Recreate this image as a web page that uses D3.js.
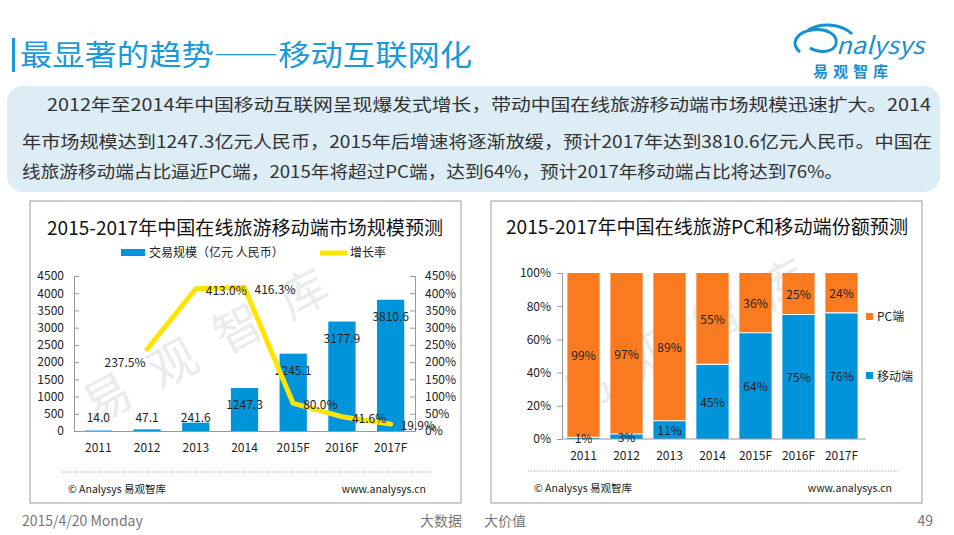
<!DOCTYPE html>
<html lang="zh">
<head>
<meta charset="utf-8">
<title>最显著的趋势——移动互联网化</title>
<script src="https://cdn.jsdelivr.net/npm/d3@7"></script>
<style>
  body { margin: 0; background: #fff; }
  svg text { font-family: "Noto Sans CJK SC", "Noto Sans", sans-serif; }
</style>
</head>
<body>
<div id="page"></div>
<script>
// ---- data ----
var years = ["2011", "2012", "2013", "2014", "2015F", "2016F", "2017F"];
var marketSize = [14.0, 47.1, 241.6, 1247.3, 2245.1, 3177.9, 3810.6];
var growthYears = ["2012", "2013", "2014", "2015F", "2016F", "2017F"];
var growthRate = [237.5, 413.0, 416.3, 80.0, 41.6, 19.9];
var mobileShare = [1, 3, 11, 45, 64, 75, 76];
var pcShare = [99, 97, 89, 55, 36, 25, 24];
var sizeTicks = [0, 500, 1000, 1500, 2000, 2500, 3000, 3500, 4000, 4500];
var rateTicks = [0, 50, 100, 150, 200, 250, 300, 350, 400, 450];
var shareTicks = [0, 20, 40, 60, 80, 100];
var introLines = [
  "2012年至2014年中国移动互联网呈现爆发式增长，带动中国在线旅游移动端市场规模迅速扩大。2014",
  "年市场规模达到1247.3亿元人民币，2015年后增速将逐渐放缓，预计2017年达到3810.6亿元人民币。中国在",
  "线旅游移动端占比逼近PC端，2015年将超过PC端，达到64%，预计2017年移动端占比将达到76%。"
];

var W = 954, H = 535;
var blue = "#0095da", orange = "#f97a1f", yellow = "#ffe400";

var svg = d3.select("#page").append("svg")
  .attr("width", W).attr("height", H);

// ---- page header ----
svg.append("rect").attr("x", 12).attr("y", 38).attr("width", 3).attr("height", 34).attr("fill", "#1a9ad8");
svg.append("text").attr("x", 20).attr("y", 66)
  .attr("font-size", 29).attr("fill", "#1a9ad8")
  .attr("textLength", 452).attr("lengthAdjust", "spacingAndGlyphs")
  .text("最显著的趋势——移动互联网化");

// logo
var logo = svg.append("g").attr("fill", "#1a8fd2");
logo.append("path")
  .attr("d", "M800,52 C790,44 796,32 812,30 C826,28 838,34 836,44 C834,52 820,54 810,48 M808,30 C822,22 842,24 852,34")
  .attr("fill", "none").attr("stroke", "#1a8fd2").attr("stroke-width", 3);
logo.append("text").attr("x", 836).attr("y", 54)
  .attr("font-size", 24).attr("font-style", "italic").attr("font-family", "DejaVu Sans")
  .attr("textLength", 88).attr("lengthAdjust", "spacingAndGlyphs").text("nalysys");
logo.append("text").attr("x", 813).attr("y", 77)
  .attr("font-size", 15).attr("font-weight", "bold").attr("letter-spacing", 5)
  .text("易观智库");

// intro box
svg.append("rect").attr("x", 7).attr("y", 86).attr("width", 933).attr("height", 106)
  .attr("rx", 16).attr("fill", "#ddedf6");
var introX = [47, 22, 22], introY = [111, 148, 178], introW = [884, 910, 821];
svg.selectAll("text.intro").data(introLines).join("text")
  .attr("class", "intro")
  .attr("x", (d, i) => introX[i]).attr("y", (d, i) => introY[i])
  .attr("font-size", 17).attr("fill", "#333")
  .attr("textLength", (d, i) => introW[i]).attr("lengthAdjust", "spacingAndGlyphs")
  .text(d => d);

// ---- helpers ----
function panel(x, y, w, h) {
  svg.append("rect").attr("x", x).attr("y", y).attr("width", w).attr("height", h)
    .attr("fill", "#fff").attr("stroke", "#bdbdbd").attr("stroke-width", 1.5);
}
function watermark(cx, cy) {
  svg.append("text")
    .attr("transform", "translate(" + cx + "," + cy + ") rotate(-28)")
    .attr("text-anchor", "middle").attr("font-size", 48).attr("fill", "#ebebeb")
    .attr("letter-spacing", 26).text("易观智库");
}
function footer(x1, x2, y) {
  svg.append("line").attr("x1", x1).attr("x2", x2).attr("y1", y).attr("y2", y)
    .attr("stroke", "#aaa").attr("stroke-dasharray", "1.5,1.5");
  svg.append("text").attr("x", x1 + 6).attr("y", y + 21).attr("font-size", 10.5).attr("fill", "#222")
    .text("© Analysys 易观智库");
  svg.append("text").attr("x", x2 - 6).attr("y", y + 21).attr("font-size", 10.5).attr("fill", "#222")
    .attr("text-anchor", "end").text("www.analysys.cn");
}
function styleAxis(g) {
  g.select(".domain").attr("stroke", "#999");
  g.selectAll(".tick line").attr("stroke", "#999");
  g.selectAll(".tick text").attr("font-size", 12).attr("fill", "#222")
    .style("font-family", "'Noto Sans CJK SC', sans-serif");
}

// ---- left chart: market size + growth ----
panel(30, 201, 431, 302);
watermark(225, 355);
svg.append("text").attr("x", 245).attr("y", 235).attr("text-anchor", "middle")
  .attr("font-size", 19).attr("fill", "#111")
  .attr("textLength", 396).attr("lengthAdjust", "spacingAndGlyphs")
  .text("2015-2017年中国在线旅游移动端市场规模预测");

// legend
svg.append("rect").attr("x", 121).attr("y", 249).attr("width", 24).attr("height", 7).attr("fill", blue);
svg.append("text").attr("x", 149).attr("y", 257).attr("font-size", 12).attr("fill", "#222")
  .text("交易规模（亿元 人民币）");
svg.append("line").attr("x1", 320).attr("x2", 347).attr("y1", 253).attr("y2", 253)
  .attr("stroke", yellow).attr("stroke-width", 5);
svg.append("text").attr("x", 350).attr("y", 257).attr("font-size", 12).attr("fill", "#222").text("增长率");

var xL = d3.scaleBand().domain(years).range([74, 415]).paddingInner(0.44).paddingOuter(0.22);
var yL = d3.scaleLinear().domain([0, 4500]).range([431, 276]);
var yR = d3.scaleLinear().domain([0, 450]).range([431, 276]);

svg.selectAll("rect.size").data(years).join("rect")
  .attr("class", "size")
  .attr("x", d => xL(d)).attr("width", xL.bandwidth())
  .attr("y", (d, i) => yL(marketSize[i]))
  .attr("height", (d, i) => yL(0) - yL(marketSize[i]))
  .attr("fill", blue);

var gL = svg.append("g").attr("transform", "translate(74,0)")
  .call(d3.axisLeft(yL).tickValues(sizeTicks).tickSize(-5).tickPadding(10).tickFormat(d3.format("d")));
styleAxis(gL);
var gR = svg.append("g").attr("transform", "translate(415,0)")
  .call(d3.axisRight(yR).tickValues(rateTicks).tickSize(-5).tickPadding(10).tickFormat(d => d + "%"));
styleAxis(gR);
var gX = svg.append("g").attr("transform", "translate(0,431)")
  .call(d3.axisBottom(xL).tickSize(0).tickPadding(12));
styleAxis(gX);

svg.selectAll("text.sizeLabel").data(years).join("text")
  .attr("class", "sizeLabel")
  .attr("x", d => xL(d) + xL.bandwidth() / 2)
  .attr("y", (d, i) => Math.min(yL(marketSize[i]) + 16, 417) + 5)
  .attr("text-anchor", "middle").attr("font-size", 12).attr("fill", "#222")
  .text((d, i) => marketSize[i].toFixed(1));

var cx = d => xL(d) + xL.bandwidth() / 2;
var line = d3.line().x((d, i) => cx(growthYears[i])).y(d => yR(d));
svg.append("path").datum(growthRate).attr("d", line)
  .attr("fill", "none").attr("stroke", yellow).attr("stroke-width", 5)
  .attr("stroke-linejoin", "round").attr("stroke-linecap", "round");

svg.selectAll("text.rateLabel").data(growthRate).join("text")
  .attr("class", "rateLabel")
  .attr("x", (d, i) => i === 0 ? cx(growthYears[i]) - 22 : cx(growthYears[i]) + 10)
  .attr("y", (d, i) => i === 0 ? yR(d) + 18 : yR(d) + 6)
  .attr("text-anchor", "start")
  .attr("text-anchor", (d, i) => i === 0 ? "middle" : "start")
  .attr("font-size", 12).attr("fill", "#222")
  .text(d => d.toFixed(1) + "%");

footer(62, 432, 472);

// ---- right chart: PC vs mobile share ----
panel(491, 201, 431, 302);
watermark(705, 345);
svg.append("text").attr("x", 707).attr("y", 234).attr("text-anchor", "middle")
  .attr("font-size", 19).attr("fill", "#111")
  .attr("textLength", 402).attr("lengthAdjust", "spacingAndGlyphs")
  .text("2015-2017年中国在线旅游PC和移动端份额预测");

var xS = d3.scaleBand().domain(years).range([562, 863]).paddingInner(0.25).paddingOuter(0.125);
var yS = d3.scaleLinear().domain([0, 100]).range([439, 273]);

svg.selectAll("rect.mobile").data(years).join("rect")
  .attr("class", "mobile")
  .attr("x", d => xS(d)).attr("width", xS.bandwidth())
  .attr("y", (d, i) => yS(mobileShare[i]))
  .attr("height", (d, i) => yS(0) - yS(mobileShare[i]))
  .attr("fill", blue);
svg.selectAll("rect.pc").data(years).join("rect")
  .attr("class", "pc")
  .attr("x", d => xS(d)).attr("width", xS.bandwidth())
  .attr("y", (d, i) => yS(mobileShare[i] + pcShare[i]))
  .attr("height", (d, i) => yS(mobileShare[i]) - yS(mobileShare[i] + pcShare[i]))
  .attr("fill", orange);
svg.selectAll("line.sep").data(years).join("line")
  .attr("class", "sep")
  .attr("x1", d => xS(d)).attr("x2", d => xS(d) + xS.bandwidth())
  .attr("y1", (d, i) => yS(mobileShare[i])).attr("y2", (d, i) => yS(mobileShare[i]))
  .attr("stroke", "#fff").attr("stroke-width", 1.2);

var gS = svg.append("g").attr("transform", "translate(562,0)")
  .call(d3.axisLeft(yS).tickValues(shareTicks).tickSize(5).tickPadding(6).tickFormat(d => d + "%"));
styleAxis(gS);
var gSX = svg.append("g").attr("transform", "translate(0,439)")
  .call(d3.axisBottom(xS).tickSize(0).tickPadding(12));
styleAxis(gSX);
gSX.select(".domain").attr("d", "M562,0H866");

svg.selectAll("text.mobLabel").data(years).join("text")
  .attr("class", "mobLabel")
  .attr("x", d => xS(d) + xS.bandwidth() / 2)
  .attr("y", (d, i) => (yS(0) + yS(mobileShare[i])) / 2 + 5)
  .attr("text-anchor", "middle").attr("font-size", 12).attr("fill", "#222")
  .text((d, i) => mobileShare[i] + "%");
svg.selectAll("text.pcLabel").data(years).join("text")
  .attr("class", "pcLabel")
  .attr("x", d => xS(d) + xS.bandwidth() / 2)
  .attr("y", (d, i) => (yS(mobileShare[i]) + yS(100)) / 2 + 5)
  .attr("text-anchor", "middle").attr("font-size", 12).attr("fill", "#222")
  .text((d, i) => pcShare[i] + "%");

// legend
svg.append("rect").attr("x", 866).attr("y", 313).attr("width", 7).attr("height", 7).attr("fill", orange);
svg.append("text").attr("x", 877).attr("y", 321).attr("font-size", 12).attr("fill", "#222").text("PC端");
svg.append("rect").attr("x", 866).attr("y", 372).attr("width", 7).attr("height", 7).attr("fill", blue);
svg.append("text").attr("x", 877).attr("y", 381).attr("font-size", 12).attr("fill", "#222").text("移动端");

footer(528, 898, 471);

// ---- page footer ----
svg.append("text").attr("x", 22).attr("y", 526).attr("font-size", 14).attr("fill", "#777")
  .text("2015/4/20 Monday");
svg.append("text").attr("x", 420).attr("y", 526)
  .attr("font-size", 14).attr("fill", "#777").text("大数据");
svg.append("text").attr("x", 484).attr("y", 526)
  .attr("font-size", 14).attr("fill", "#777").text("大价值");
svg.append("text").attr("x", 933).attr("y", 526).attr("text-anchor", "end")
  .attr("font-size", 14).attr("fill", "#777").text("49");
</script>
</body>
</html>
